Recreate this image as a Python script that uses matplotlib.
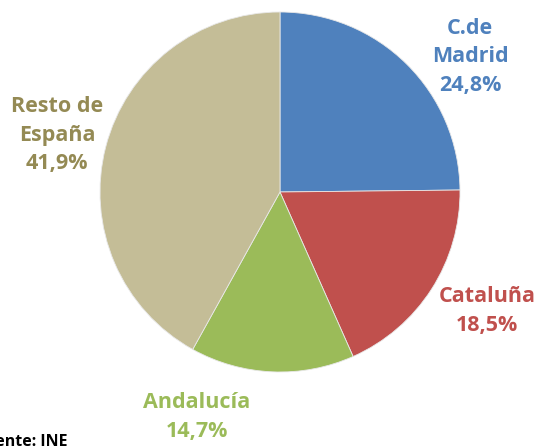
import matplotlib
matplotlib.use("Agg")
import matplotlib.pyplot as plt

labels = ["C.de\nMadrid", "Cataluña", "Andalucía", "Resto de\nEspaña"]
values = [24.8, 18.5, 14.7, 41.9]
colors = ["#4F81BD", "#C0504D", "#9BBB59", "#C4BD97"]
label_colors = ["#4F81BD", "#C0504D", "#9BBB59", "#948A54"]
source = "Fuente: INE"

W, H = 537, 446
fig = plt.figure(figsize=(W / 100, H / 100), dpi=100)

# pie centre (280,192) px, radius 180 px
cx, cy, r = 280, 192, 180
ax = fig.add_axes([(cx - r) / W, (H - cy - r) / H, 2 * r / W, 2 * r / H])
ax.pie(values, colors=colors, startangle=90, counterclock=False, radius=1,
       wedgeprops=dict(edgecolor="#e8e8e8", linewidth=0.6))
ax.set_xlim(-1, 1)
ax.set_ylim(-1, 1)
ax.set_aspect("auto")
ax.axis("off")

# label centres in pixel coordinates
label_pos = [(470, 57), (487, 311), (197, 417), (57, 135)]
for lab, v, c, (px, py) in zip(labels, values, label_colors, label_pos):
    txt = lab + "\n" + ("%.1f%%" % v).replace(".", ",")
    fig.text(px / W, 1 - py / H, txt, color=c, fontsize=15.5, fontweight="bold",
             family="Open Sans", ha="center", va="center", linespacing=1.45)

fig.text(67 / W, 1 - 446 / H, source, fontsize=11.5, fontweight="bold",
         family="Open Sans", ha="right", va="baseline", color="black")

fig.savefig("out.png", dpi=100)
